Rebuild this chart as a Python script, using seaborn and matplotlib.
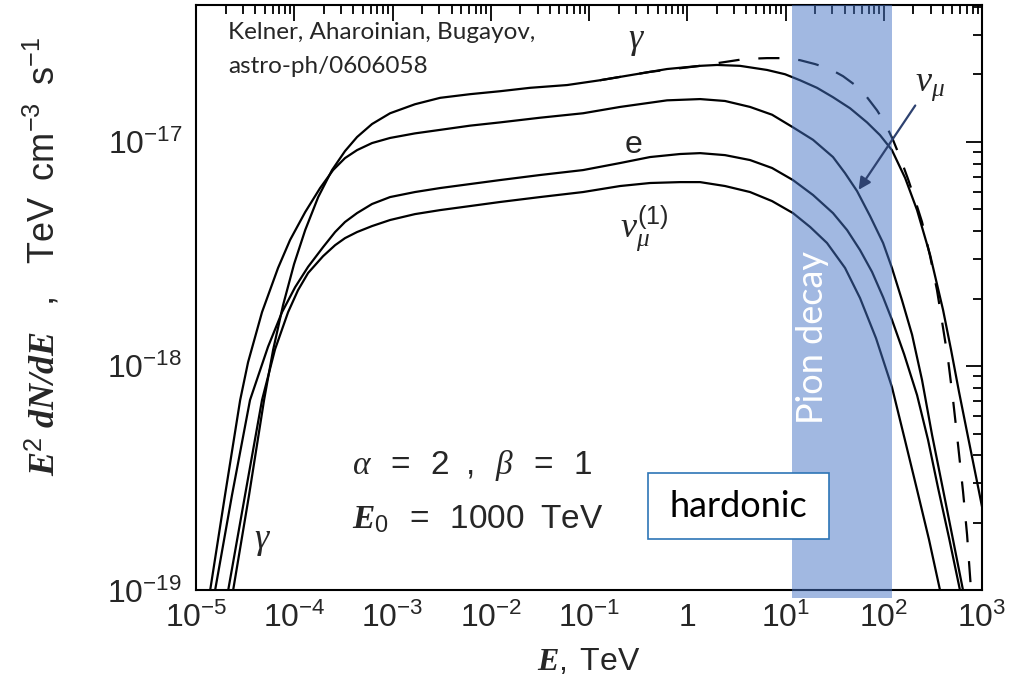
import numpy as np
import pandas as pd
import matplotlib
matplotlib.use("Agg")
import matplotlib.pyplot as plt
import seaborn as sns
from matplotlib.ticker import FixedLocator, FuncFormatter, NullFormatter
from matplotlib.patches import Rectangle

# Secondary spectra: energy E (TeV) and E^2 dN/dE (TeV cm^-3 s^-1)
gamma_E = [2.38e-5, 3.46e-5, 4.92e-5, 6.08e-5, 7.68e-5, 9.94e-5, 1.29e-4, 1.75e-4,
           2.42e-4, 3.28e-4, 4.35e-4, 6.18e-4, 9.43e-4, 1.69e-3, 3.05e-3, 6.15e-3,
           1.24e-2, 2.51e-2, 5.97e-2, 0.129, 0.261, 0.622, 1.35, 2.01, 3.44, 6.48,
           9.88, 14.05, 20.9, 30.4, 45.4, 67.5, 91.6, 121, 165, 218, 296, 401, 484,
           583, 720, 869, 1024]
gamma_F = [1.0e-19, 2.66e-19, 7.06e-19, 1.18e-18, 1.87e-18, 2.85e-18, 4.04e-18, 5.67e-18,
           7.48e-18, 9.09e-18, 1.05e-17, 1.20e-17, 1.34e-17, 1.47e-17, 1.57e-17, 1.63e-17,
           1.68e-17, 1.74e-17, 1.79e-17, 1.88e-17, 1.98e-17, 2.11e-17, 2.18e-17, 2.20e-17,
           2.18e-17, 2.09e-17, 2.00e-17, 1.88e-17, 1.74e-17, 1.58e-17, 1.41e-17, 1.22e-17,
           1.07e-17, 9.18e-18, 6.89e-18, 4.96e-18, 3.13e-18, 1.78e-18, 1.18e-18, 7.67e-19,
           4.83e-19, 3.21e-19, 2.24e-19]

numu_E = [1.39e-5, 1.97e-5, 2.81e-5, 3.38e-5, 4.69e-5, 6.83e-5, 9.05e-5, 1.29e-4,
          1.83e-4, 2.48e-4, 3.28e-4, 4.35e-4, 6.18e-4, 9.43e-4, 1.69e-3, 3.05e-3,
          6.15e-3, 1.24e-2, 3.17e-2, 8.69e-2, 0.207, 0.622, 1.35, 2.42, 4.35, 7.29,
          11.9, 19.05, 30.4, 40.3, 53.4, 72.4, 98.3, 121, 153, 194, 245, 310, 401,
          507, 641]
numu_F = [1.0e-19, 2.66e-19, 7.06e-19, 1.04e-18, 1.74e-18, 2.74e-18, 3.65e-18, 4.86e-18,
          6.22e-18, 7.48e-18, 8.46e-18, 9.18e-18, 9.87e-18, 1.04e-17, 1.09e-17, 1.13e-17,
          1.18e-17, 1.22e-17, 1.28e-17, 1.34e-17, 1.43e-17, 1.53e-17, 1.55e-17, 1.52e-17,
          1.43e-17, 1.32e-17, 1.16e-17, 1.02e-17, 8.55e-18, 7.25e-18, 6.03e-18, 4.67e-18,
          3.54e-18, 2.74e-18, 1.97e-18, 1.38e-18, 8.67e-19, 4.93e-19, 2.81e-19, 1.68e-19,
          1.0e-19]

elec_E = [1.56e-5, 2.32e-5, 3.54e-5, 5.40e-5, 7.50e-5, 1.02e-4, 1.38e-4, 1.96e-4,
          2.60e-4, 3.28e-4, 4.35e-4, 6.18e-4, 9.43e-4, 1.69e-3, 3.05e-3, 6.15e-3,
          1.24e-2, 3.17e-2, 8.69e-2, 0.207, 0.418, 0.844, 1.35, 2.42, 4.35, 7.29,
          11.9, 19.05, 30.4, 42.3, 57.3, 75.9, 98.3, 121, 161, 218, 282, 357, 462, 597]
elec_F = [1.0e-19, 2.66e-19, 7.06e-19, 1.22e-18, 1.74e-18, 2.25e-18, 2.77e-18, 3.39e-18,
          3.96e-18, 4.39e-18, 4.81e-18, 5.28e-18, 5.67e-18, 5.97e-18, 6.22e-18, 6.48e-18,
          6.75e-18, 7.11e-18, 7.48e-18, 8.04e-18, 8.55e-18, 8.82e-18, 8.90e-18, 8.72e-18,
          8.29e-18, 7.64e-18, 6.75e-18, 5.79e-18, 4.81e-18, 4.04e-18, 3.29e-18, 2.63e-18,
          2.03e-18, 1.61e-18, 1.13e-18, 7.43e-19, 4.69e-19, 2.86e-19, 1.71e-19, 1.0e-19]

numu1_E = [2.12e-5, 3.15e-5, 4.69e-5, 6.37e-5, 8.64e-5, 1.09e-4, 1.38e-4, 1.96e-4,
           2.60e-4, 3.28e-4, 4.35e-4, 6.18e-4, 9.43e-4, 1.69e-3, 3.05e-3, 6.15e-3,
           1.24e-2, 3.17e-2, 8.69e-2, 0.207, 0.418, 0.844, 1.35, 2.42, 4.35, 7.29,
           11.9, 17.8, 26.4, 40.3, 57.3, 83.4, 121, 164, 218, 289, 374]
numu1_F = [1.0e-19, 2.66e-19, 7.06e-19, 1.19e-18, 1.74e-18, 2.18e-18, 2.60e-18, 3.09e-18,
           3.46e-18, 3.72e-18, 3.96e-18, 4.21e-18, 4.48e-18, 4.76e-18, 4.96e-18, 5.17e-18,
           5.39e-18, 5.67e-18, 5.97e-18, 6.35e-18, 6.55e-18, 6.61e-18, 6.61e-18, 6.35e-18,
           5.97e-18, 5.44e-18, 4.81e-18, 4.17e-18, 3.54e-18, 2.74e-18, 2.01e-18, 1.33e-18,
           8.07e-19, 4.69e-19, 2.81e-19, 1.68e-19, 1.0e-19]

dashed_E = [0.129, 0.418, 1.35, 2.01, 3.87, 6.48, 9.88, 14.05, 19.96, 28.4, 38.5, 51.0,
            66.0, 85.4, 103, 124, 146, 176.5, 208, 245, 296, 348, 401, 451, 507, 570,
            641, 704, 773]
dashed_F = [1.88e-17, 2.05e-17, 2.18e-17, 2.24e-17, 2.34e-17, 2.36e-17, 2.36e-17, 2.31e-17,
            2.22e-17, 2.11e-17, 1.96e-17, 1.79e-17, 1.60e-17, 1.38e-17, 1.21e-17, 1.02e-17,
            8.55e-18, 6.82e-18, 5.50e-18, 4.39e-18, 3.09e-18, 2.18e-18, 1.48e-18, 1.07e-18,
            7.06e-19, 4.45e-19, 2.75e-19, 1.77e-19, 1.0e-19]

# Pion-decay energy band (TeV)
band_lo, band_hi = 11.6, 121.0

x_decades = list(range(-5, 4))
y_decades = [-19, -18, -17]
x_range = (1e-5, 1e3)
y_range = (1e-19, 4.05e-17)

sns.set_theme(style="white")
plt.rcParams.update({
    "font.family": ["Liberation Sans", "DejaVu Sans"],
    "mathtext.fontset": "custom",
    "mathtext.rm": "Liberation Sans",
    "mathtext.it": "Liberation Serif:italic",
    "mathtext.bf": "Liberation Serif:italic:bold",
    "axes.edgecolor": "black",
    "axes.linewidth": 1.5,
})

fig = plt.figure(figsize=(10.32, 6.87), dpi=100)
ax = fig.add_axes([0.190, 0.1405, 0.7616, 0.8515])
ax.set_xscale("log")
ax.set_yscale("log")

curves = pd.concat([
    pd.DataFrame({"E": gamma_E, "F": gamma_F, "species": "gamma"}),
    pd.DataFrame({"E": numu_E, "F": numu_F, "species": "numu"}),
    pd.DataFrame({"E": elec_E, "F": elec_F, "species": "e"}),
    pd.DataFrame({"E": numu1_E, "F": numu1_F, "species": "numu1"}),
])
for name, grp in curves.groupby("species", sort=False):
    sns.lineplot(data=grp, x="E", y="F", color="black", linewidth=1.6,
                 estimator=None, sort=False, ax=ax, zorder=2)
sns.lineplot(x=dashed_E, y=dashed_F, color="black", linewidth=1.6,
             linestyle=(0, (9.5, 8.5)), estimator=None, sort=False, ax=ax, zorder=2)

ax.set_xlim(*x_range)
ax.set_ylim(*y_range)

# shaded band for pion decay
ax.axvspan(band_lo, band_hi, ymin=-0.0128, ymax=1.0, color="#4472C4", alpha=0.5,
           lw=0, zorder=3, clip_on=False)
ax.text(0.784, 0.433, "Pion decay", transform=ax.transAxes, rotation=90,
        ha="center", va="center", color="white", fontsize=26, family="Lato", zorder=4)

# ticks
def decade_label(v, pos):
    e = int(round(np.log10(v)))
    return "1" if e == 0 else r"$\mathregular{10^{%d}}$" % e

x_major = [10.0 ** e for e in x_decades]
y_major = [10.0 ** e for e in y_decades]
x_minor = [m * 10.0 ** e for e in x_decades[:-1] for m in range(2, 10)]
y_minor = [m * 10.0 ** e for e in y_decades for m in range(2, 10)
           if m * 10.0 ** e <= y_range[1]]
ax.xaxis.set_major_locator(FixedLocator(x_major))
ax.xaxis.set_minor_locator(FixedLocator(x_minor))
ax.yaxis.set_major_locator(FixedLocator(y_major))
ax.yaxis.set_minor_locator(FixedLocator(y_minor))
ax.xaxis.set_major_formatter(FuncFormatter(decade_label))
ax.yaxis.set_major_formatter(FuncFormatter(decade_label))
ax.xaxis.set_minor_formatter(NullFormatter())
ax.yaxis.set_minor_formatter(NullFormatter())
ax.tick_params(which="both", direction="in", top=True, right=True, color="black",
               width=1.3, labelsize=23)
ax.tick_params(which="major", length=11.5)
ax.tick_params(which="minor", length=6.5)
ax.tick_params(axis="x", pad=9)
ax.tick_params(axis="y", pad=10)
for s in ax.spines.values():
    s.set_linewidth(1.5)
    s.set_color("black")

# axis titles
ax.set_ylabel(r"$\mathbf{E}^2\ \mathbf{dN/dE}\ \ \ ,\ \ \ \mathrm{TeV\ \ cm^{-3}\ \ s^{-1}}$",
              fontsize=26)
ax.yaxis.set_label_coords(-0.170, 0.572)
ax.set_xlabel(r"$\mathbf{E},\ \mathrm{TeV}$", fontsize=23)
ax.xaxis.set_label_coords(0.5, -0.097)

# curve labels
ax.text(0.560, 0.941, r"$\gamma$", transform=ax.transAxes, ha="center", va="center", fontsize=26)
ax.text(0.556, 0.762, "e", transform=ax.transAxes, ha="center", va="center", fontsize=23)
ax.text(0.571, 0.620, r"$\nu_\mu^{(1)}$", transform=ax.transAxes, ha="center", va="center", fontsize=26)
ax.text(0.934, 0.864, r"$\nu_\mu$", transform=ax.transAxes, ha="center", va="center", fontsize=26)
ax.text(0.084, 0.086, r"$\gamma$", transform=ax.transAxes, ha="center", va="center", fontsize=26)
ax.annotate("", xy=(0.841, 0.681), xytext=(0.917, 0.833), xycoords="axes fraction",
            arrowprops=dict(arrowstyle="-|>", color="#2E4270", lw=1.6, mutation_scale=18),
            zorder=5)

# model parameters
ax.text(0.198, 0.213, r"$\alpha\ \ =\ \ 2\ \ ,\ \ \beta\ \ =\ \ 1$", transform=ax.transAxes,
        ha="left", va="center", fontsize=24)
ax.text(0.198, 0.121, r"$\mathbf{E}_0\ \ =\ \ 1000\ \ \mathrm{TeV}$", transform=ax.transAxes,
        ha="left", va="center", fontsize=24)

# reference
ax.text(0.0407, 0.953, "Kelner, Aharoinian, Bugayov,", transform=ax.transAxes,
        ha="left", va="center", fontsize=17.5, family="Lato")
ax.text(0.0407, 0.895, "astro-ph/0606058", transform=ax.transAxes,
        ha="left", va="center", fontsize=17.5, family="Lato")

# process box
ax.add_patch(Rectangle((0.575, 0.088), 0.230, 0.113, transform=ax.transAxes,
                       facecolor="white", edgecolor="#2E75B6", lw=1.2, zorder=6))
ax.text(0.690, 0.144, "hardonic", transform=ax.transAxes, ha="center", va="center",
        fontsize=26, family="Lato", color="black", zorder=7)

fig.savefig("out.png", dpi=100)
